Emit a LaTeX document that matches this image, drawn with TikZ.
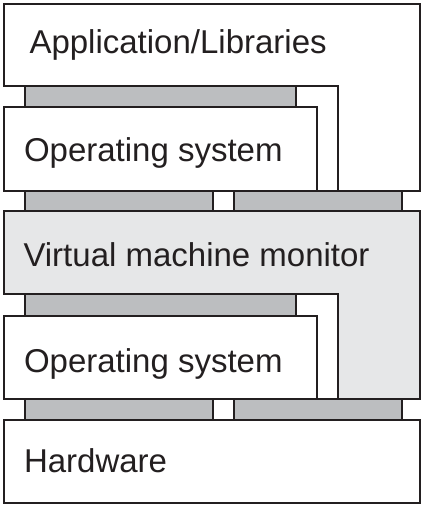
\documentclass[tikz,border=0pt]{standalone}
\usepackage{fontspec}
\setmainfont{Liberation Sans}
\definecolor{edge}{HTML}{231F20}
\definecolor{barfill}{HTML}{BCBEC0}
\definecolor{monitorfill}{HTML}{E6E7E8}

\begin{document}
\begin{tikzpicture}[x=1pt, y=-1pt, line width=2pt,
    layer/.style={draw=edge, fill=white},
    monitor/.style={draw=edge, fill=monitorfill},
    bar/.style={draw=edge, fill=barfill},
    layername/.style={anchor=base west, inner sep=0pt, font=\fontsize{33}{40}\selectfont, text=edge}]
            \useasboundingbox (0,0) rectangle (425,508);

            % Layers
            \draw[layer] (4,4) -- (420,4) -- (420,191) -- (338,191) -- (338,86) -- (4,86) -- cycle;
            \draw[bar] (25,86) rectangle (296,107);
            \draw[layer] (4,107) rectangle (317,191);
            \draw[bar] (25,191) rectangle (213,211);
            \draw[bar] (234,191) rectangle (402,211);
            \draw[monitor] (4,211) -- (420,211) -- (420,399) -- (338,399) -- (338,294) -- (4,294) -- cycle;
            \draw[bar] (25,294) rectangle (296,316);
            \draw[layer] (4,316) rectangle (317,399);
            \draw[bar] (25,399) rectangle (213,420);
            \draw[bar] (234,399) rectangle (402,420);
            \draw[layer] (4,420) rectangle (420,503);

            % Nodes
            \node[layername] (app) at (28.5,53.5) {Application/Libraries};
            \node[layername] (os_upper) at (23,161.5) {Operating system};
            \node[layername] (vmm) at (22.5,266.5) {Virtual machine monitor};
            \node[layername] (os_lower) at (23,372) {Operating system};
            \node[layername] (hardware) at (23,472.5) {Hardware};
        \end{tikzpicture}
\end{document}
